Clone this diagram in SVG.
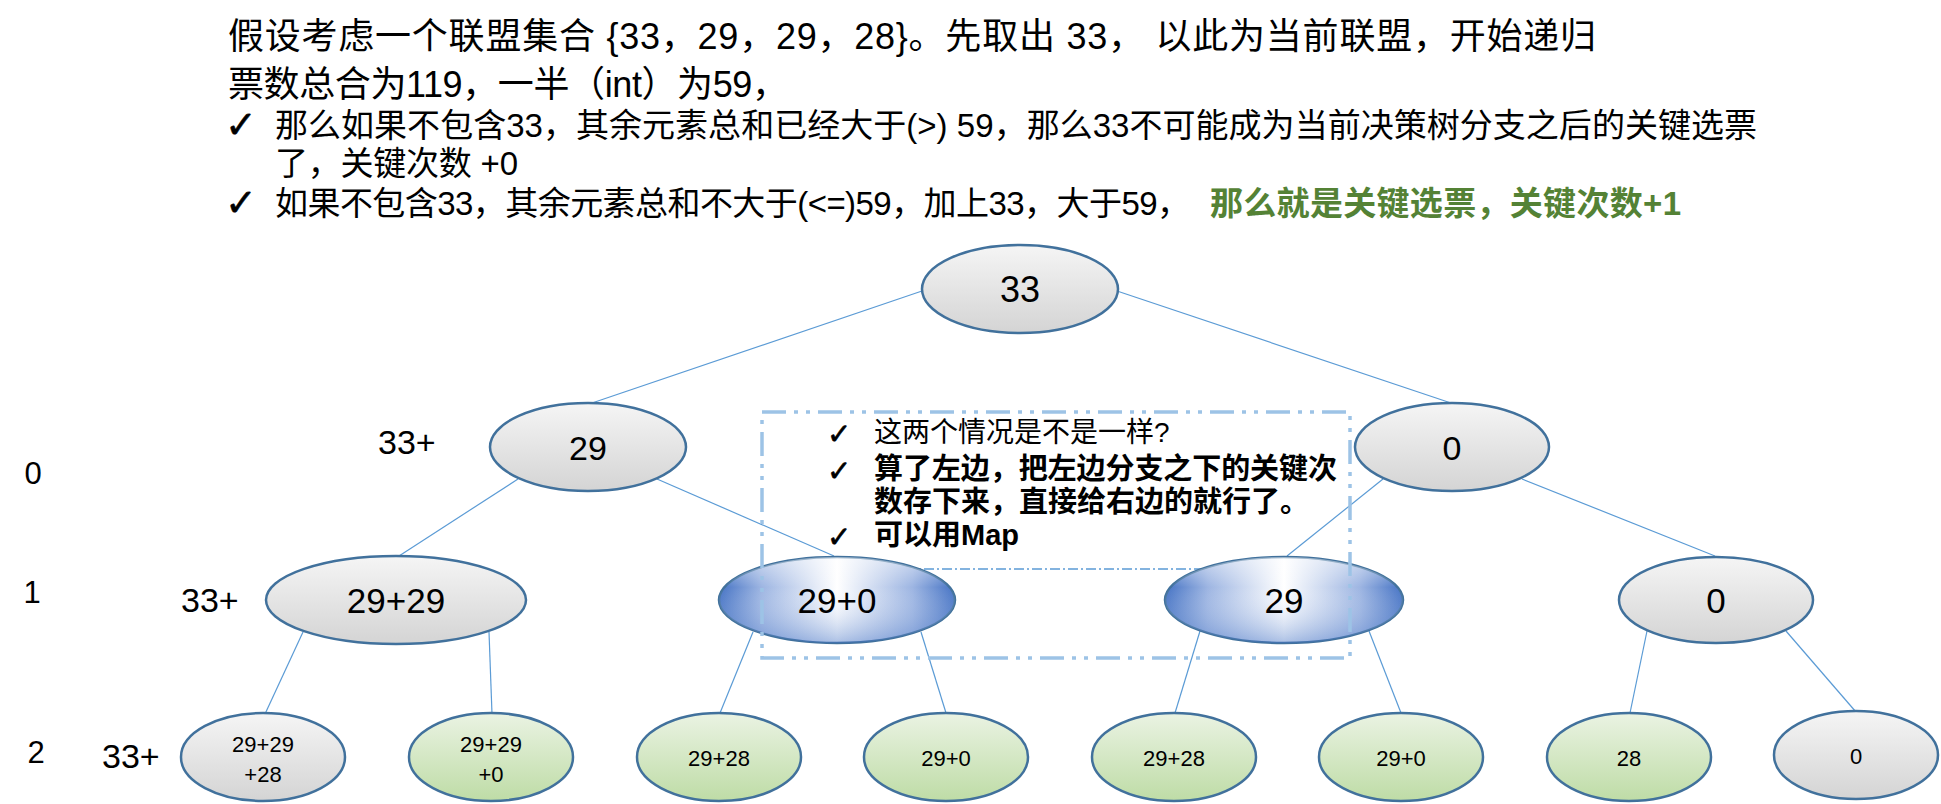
<svg xmlns="http://www.w3.org/2000/svg" width="1941" height="804" viewBox="0 0 1941 804">
<style>
.t{font-family:"Liberation Sans","Noto Sans CJK SC",sans-serif;fill:#000}
.ck{font-family:"DejaVu Sans",sans-serif;fill:#000;font-weight:bold;stroke:#000;stroke-width:0.6}
.nt{font-family:"Liberation Sans","Noto Sans CJK SC",sans-serif;fill:#000;text-anchor:middle}
.node{stroke:#41719C;stroke-width:2.5}
.gray{fill:url(#gGray)}
.green{fill:url(#gGreen)}
.blue{fill:url(#gBlueH)}
.bover{fill:url(#gBlueV);stroke:none}
.con line{stroke:#5B9BD5;stroke-width:1.2}
.lvl{font-family:"Liberation Sans",sans-serif;font-size:31px;text-anchor:middle;fill:#000}
.pre{font-family:"Liberation Sans",sans-serif;font-size:34px;fill:#000}
</style>
<defs>
<linearGradient id="gGray" x1="0" y1="0" x2="0" y2="1">
<stop offset="0" stop-color="#F5F5F5"/><stop offset="1" stop-color="#D4D4D4"/>
</linearGradient>
<linearGradient id="gGreen" x1="0" y1="0" x2="0" y2="1">
<stop offset="0" stop-color="#EAF3E3"/><stop offset="1" stop-color="#BEDCA6"/>
</linearGradient>
<linearGradient id="gBlueH" x1="0" y1="0" x2="1" y2="0">
<stop offset="0" stop-color="#4472C4"/><stop offset="0.18" stop-color="#9DB5E2"/><stop offset="0.5" stop-color="#FFFFFF"/><stop offset="0.82" stop-color="#9DB5E2"/><stop offset="1" stop-color="#4472C4"/>
</linearGradient>
<linearGradient id="gBlueV" x1="0" y1="0" x2="0" y2="1">
<stop offset="0" stop-color="#FFFFFF" stop-opacity="0.5"/><stop offset="0.35" stop-color="#FFFFFF" stop-opacity="0"/><stop offset="1" stop-color="#4472C4" stop-opacity="0.45"/>
</linearGradient>
</defs>
<rect width="1941" height="804" fill="#FFFFFF"/>

<g id="title">
<text class="t" x="228" y="49" font-size="36" textLength="1368" lengthAdjust="spacing">假设考虑一个联盟集合 {33，29，29，28}。先取出 33， 以此为当前联盟，开始递归</text>
<text class="t" x="228" y="97" font-size="36" textLength="560" lengthAdjust="spacing">票数总合为119，一半（int）为59，</text>
<text class="ck" x="225" y="138" font-size="38">✓</text>
<text class="t" x="275" y="137" font-size="33" textLength="1482" lengthAdjust="spacing">那么如果不包含33，其余元素总和已经大于(&gt;) 59，那么33不可能成为当前决策树分支之后的关键选票</text>
<text class="t" x="275" y="175" font-size="33" textLength="243" lengthAdjust="spacing">了，关键次数 +0</text>
<text class="ck" x="225" y="216" font-size="38">✓</text>
<text class="t" x="275" y="215" font-size="33" textLength="915" lengthAdjust="spacing">如果不包含33，其余元素总和不大于(&lt;=)59，加上33，大于59，</text>
<text class="t" x="1210" y="215" font-size="33" font-weight="bold" style="fill:#548235" textLength="471" lengthAdjust="spacing">那么就是关键选票，关键次数+1</text>
</g>

<g id="connectors" class="con">
<line x1="922" y1="291" x2="592" y2="403"/>
<line x1="1117" y1="291" x2="1451" y2="403"/>
<line x1="518" y1="479" x2="399" y2="556"/>
<line x1="657" y1="479" x2="834" y2="556"/>
<line x1="1383" y1="479" x2="1287" y2="556"/>
<line x1="1522" y1="479" x2="1715" y2="556"/>
<line x1="303" y1="632" x2="265" y2="714"/>
<line x1="489" y1="632" x2="492" y2="714"/>
<line x1="753" y1="632" x2="720" y2="713"/>
<line x1="921" y1="632" x2="946" y2="713"/>
<line x1="1200" y1="631" x2="1175" y2="713"/>
<line x1="1369" y1="631" x2="1401" y2="713"/>
<line x1="1647" y1="631" x2="1630" y2="713"/>
<line x1="1786" y1="631" x2="1856" y2="712"/>
</g>

<line id="textbox-edge" x1="762" y1="569" x2="1348" y2="569" stroke="#5B9BD5" stroke-width="1.5" stroke-dasharray="10 3 2 3"/>

<g id="n-root"><ellipse class="node gray" cx="1020" cy="289" rx="98" ry="44"/><text class="nt" x="1020" y="302" font-size="36">33</text></g>
<g id="n-l"><ellipse class="node gray" cx="588" cy="447" rx="98" ry="44"/><text class="nt" x="588" y="460" font-size="34">29</text></g>
<g id="n-r"><ellipse class="node gray" cx="1452" cy="447" rx="97" ry="44"/><text class="nt" x="1452" y="460" font-size="34">0</text></g>

<g id="n-ll"><ellipse class="node gray" cx="396" cy="600" rx="130" ry="44"/><text class="nt" x="396" y="613" font-size="35">29+29</text></g>
<g id="n-lr"><ellipse class="node blue" cx="837" cy="600" rx="118" ry="43"/><ellipse class="bover" cx="837" cy="600" rx="118" ry="43"/><text class="nt" x="837" y="613" font-size="35">29+0</text></g>
<g id="n-rl"><ellipse class="node blue" cx="1284" cy="600" rx="119" ry="43"/><ellipse class="bover" cx="1284" cy="600" rx="119" ry="43"/><text class="nt" x="1284" y="613" font-size="35">29</text></g>
<g id="n-rr"><ellipse class="node gray" cx="1716" cy="600" rx="97" ry="43"/><text class="nt" x="1716" y="613" font-size="35">0</text></g>

<g id="n-3-1"><ellipse class="node gray" cx="263" cy="757" rx="82" ry="44"/><text class="nt" x="263" y="752" font-size="22">29+29</text><text class="nt" x="263" y="782" font-size="22">+28</text></g>
<g id="n-3-2"><ellipse class="node green" cx="491" cy="757" rx="82" ry="44"/><text class="nt" x="491" y="752" font-size="22">29+29</text><text class="nt" x="491" y="782" font-size="22">+0</text></g>
<g id="n-3-3"><ellipse class="node green" cx="719" cy="757" rx="82" ry="44"/><text class="nt" x="719" y="766" font-size="22">29+28</text></g>
<g id="n-3-4"><ellipse class="node green" cx="946" cy="757" rx="82" ry="44"/><text class="nt" x="946" y="766" font-size="22">29+0</text></g>
<g id="n-3-5"><ellipse class="node green" cx="1174" cy="757" rx="82" ry="44"/><text class="nt" x="1174" y="766" font-size="22">29+28</text></g>
<g id="n-3-6"><ellipse class="node green" cx="1401" cy="757" rx="82" ry="44"/><text class="nt" x="1401" y="766" font-size="22">29+0</text></g>
<g id="n-3-7"><ellipse class="node green" cx="1629" cy="757" rx="82" ry="44"/><text class="nt" x="1629" y="766" font-size="22">28</text></g>
<g id="n-3-8"><ellipse class="node gray" cx="1856" cy="755" rx="82" ry="44"/><text class="nt" x="1856" y="764" font-size="22">0</text></g>

<g id="labels">
<text class="lvl" x="33" y="484">0</text>
<text class="lvl" x="32" y="603">1</text>
<text class="lvl" x="36" y="763">2</text>
<text class="pre" x="378" y="454">33+</text>
<text class="pre" x="181" y="612">33+</text>
<text class="pre" x="102" y="768">33+</text>
</g>

<g id="note">
<rect x="762" y="412" width="588" height="246" fill="none" stroke="#9DC3E6" stroke-width="3.5" stroke-dasharray="24 8 4 8 4 8"/>
<text class="ck" x="827" y="444" font-size="29">✓</text>
<text class="t" x="874" y="442" font-size="28">这两个情况是不是一样?</text>
<text class="ck" x="827" y="481" font-size="29">✓</text>
<text class="t" x="874" y="479" font-size="29" font-weight="bold" textLength="463" lengthAdjust="spacing">算了左边，把左边分支之下的关键次</text>
<text class="t" x="874" y="512" font-size="29" font-weight="bold">数存下来，直接给右边的就行了。</text>
<text class="ck" x="827" y="547" font-size="29">✓</text>
<text class="t" x="874" y="545" font-size="29" font-weight="bold">可以用Map</text>
</g>
</svg>
